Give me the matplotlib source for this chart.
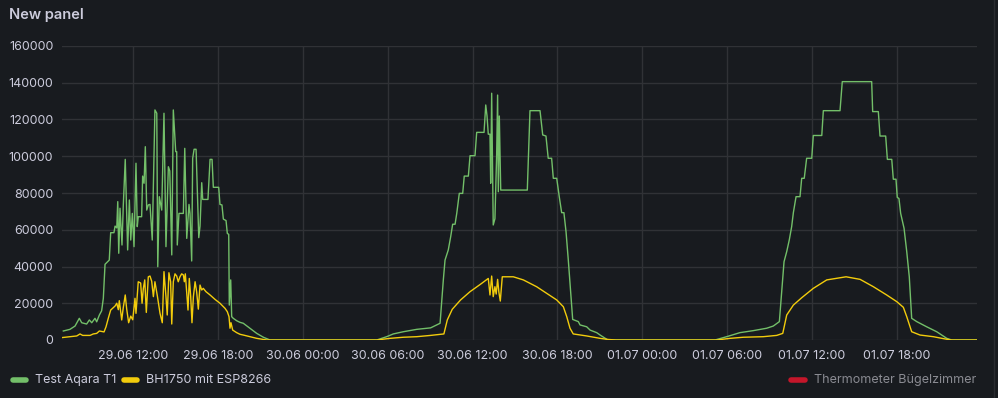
import datetime as dt
import matplotlib
matplotlib.use("Agg")
import matplotlib.pyplot as plt
import matplotlib.dates as mdates
from matplotlib.lines import Line2D
from matplotlib.ticker import MultipleLocator, FuncFormatter

plt.rcParams['font.family'] = ['Inter', 'DejaVu Sans']

# hours since 29.06 00:00 and lux values
aqara_hours = [
    7.05, 7.52, 7.88, 8.18, 8.35, 8.70, 8.89, 9.06, 9.29, 9.41, 9.60, 9.76, 9.88, 10.00,
    10.30, 10.40, 10.63, 10.71, 10.83, 10.90, 10.97, 11.06, 11.20, 11.29, 11.43, 11.60,
    11.72, 11.82, 11.93, 12.05, 12.19, 12.28, 12.35, 12.59, 12.66, 12.76, 12.85, 12.95,
    13.06, 13.18, 13.34, 13.53, 13.66, 13.73, 13.84, 14.01, 14.17, 14.31, 14.48, 14.58,
    14.72, 14.83, 15.00, 15.07, 15.11, 15.23, 15.54, 15.64, 15.78, 15.94, 16.01, 16.13,
    16.20, 16.30, 16.44, 16.53, 16.63, 16.72, 16.84, 16.91, 17.28, 17.43, 17.57, 17.66,
    18.04, 18.13, 18.27, 18.37, 18.56, 18.65, 18.75, 18.79, 18.89, 18.96, 19.07, 19.31,
    19.55, 19.78, 20.25, 20.73, 21.20, 21.67,
    29.22, 29.92, 30.39, 31.10, 32.05, 33.03, 33.46, 33.70, 33.93, 34.05, 34.28, 34.45,
    34.59, 34.76, 34.88, 35.06, 35.30, 35.41, 35.70, 35.82, 36.17, 36.29, 36.81, 36.93,
    37.02, 37.11, 37.23, 37.28, 37.35, 37.46, 37.58, 37.70, 37.77, 37.82, 37.89, 37.99,
    39.87, 40.06, 40.77, 40.96, 41.19, 41.35, 41.59, 41.71, 41.95, 42.13, 42.30, 42.46,
    42.61, 42.77, 42.94, 43.08, 43.48, 43.60, 44.07, 44.31, 44.78, 45.02, 45.57,
    53.15, 53.97, 54.91, 55.86, 56.80, 57.27, 57.70, 57.87, 58.03, 58.22, 58.40, 58.57,
    58.69, 58.88, 59.16, 59.28, 59.46, 59.63, 59.99, 60.10, 60.70, 60.81, 61.99, 62.15,
    64.23, 64.30, 64.70, 64.82, 65.22, 65.34, 65.65, 65.76, 65.95, 66.04, 66.16, 66.28,
    66.52, 66.71, 66.89, 67.06, 67.42, 68.12, 68.83, 69.54, 69.89, 71.68,
]
aqara_lux = [
    4900, 5800, 7600, 11800, 9400, 8700, 10900, 9400, 11800, 9900, 13600, 15900, 22700, 41200,
    43500, 58400, 58400, 62000, 61000, 75300, 47200, 71700, 51700, 72900, 98300, 49000,
    76200, 54400, 68900, 50800, 96200, 61700, 67100, 67100, 89200, 85300, 105200, 70700,
    73500, 73800, 54400, 125200, 123400, 39900, 78000, 70700, 123400, 50800, 94300, 92000,
    46300, 125200, 102500, 102500, 51700, 68900, 68900, 104300, 55300, 73800, 68900, 43000,
    98900, 103800, 103800, 81600, 55700, 62000, 85600, 76500, 76500, 98300, 98300, 83100,
    83100, 73800, 73500, 65800, 65000, 58000, 57500, 19000, 32700, 12700, 11800, 10500,
    9600, 9100, 6400, 3600, 1500, 0,
    0, 1800, 3300, 4500, 5800, 6600, 8200, 9100, 32700, 43500, 49000, 56200,
    63000, 63000, 68900, 79800, 79800, 89200, 89200, 100300, 100300, 113000, 113000, 127900,
    122000, 112000, 112000, 85300, 134300, 62600, 66000, 100000, 133300, 80700, 121900, 81600,
    81600, 124800, 124800, 111600, 111000, 98900, 98900, 88000, 88000, 78000, 69300, 69300,
    58900, 43500, 25400, 11200, 10000, 8200, 7200, 5400, 4000, 2700, 0,
    0, 1800, 4000, 5100, 6400, 7600, 10000, 27200, 42600, 48100, 54400, 61700,
    69300, 78000, 78000, 88000, 88000, 98900, 98900, 111300, 111300, 124800, 124800, 140600,
    140600, 124300, 124300, 111000, 111000, 98300, 98300, 87500, 87500, 77600, 77000, 68900,
    60800, 48100, 34400, 11800, 10000, 7200, 4500, 900, 0, 0,
]

bh1750_hours = [
    6.94, 7.52, 8.00, 8.23, 8.42, 8.94, 9.17, 9.41, 9.60, 9.93, 10.07, 10.23, 10.40, 10.71,
    10.83, 10.94, 11.01, 11.18, 11.29, 11.43, 11.53, 11.67, 11.82, 11.96, 12.12, 12.19,
    12.35, 12.52, 12.62, 12.71, 12.81, 12.92, 13.06, 13.18, 13.30, 13.42, 13.53, 13.70,
    13.89, 14.05, 14.17, 14.31, 14.40, 14.52, 14.64, 14.72, 14.83, 14.95, 15.07, 15.18,
    15.30, 15.42, 15.54, 15.61, 15.68, 15.78, 15.87, 15.96, 16.06, 16.15, 16.25, 16.37,
    16.48, 16.60, 16.72, 16.84, 16.95, 17.14, 17.43, 17.78, 18.13, 18.49, 18.65, 18.77,
    18.84, 18.91, 19.03, 19.31, 19.55, 19.78, 20.73, 21.44,
    29.22, 30.16, 31.10, 32.05, 33.03, 33.97, 34.21, 34.56, 35.15, 35.82, 36.55, 37.11,
    37.23, 37.35, 37.46, 37.58, 37.67, 37.77, 37.86, 37.96, 38.10, 38.88, 39.59, 40.53,
    41.24, 41.95, 42.42, 42.66, 42.89, 43.12, 44.07, 45.02, 45.57, 46.15,
    53.27, 54.21, 55.15, 56.56, 57.51, 57.94, 58.22, 58.69, 59.28, 60.10, 61.05, 62.42,
    63.41, 64.35, 65.29, 66.00, 66.47, 66.71, 67.06, 67.65, 68.59, 69.54, 69.89, 71.68,
]
bh1750_lux = [
    1300, 1800, 2200, 3300, 2500, 2500, 3300, 3600, 4900, 4400, 7200, 11800, 16300, 18500,
    20000, 16500, 21400, 10900, 17600, 24500, 17000, 9400, 13000, 11000, 22700, 14500,
    31700, 31000, 20000, 28100, 32700, 15000, 34400, 34800, 32000, 23600, 31700, 24000,
    14500, 9400, 37200, 23600, 13600, 36600, 31700, 8700, 31700, 36000, 34800, 31700,
    34400, 36000, 35400, 31700, 36000, 25400, 16300, 33500, 23600, 9400, 23600, 31700,
    26300, 16800, 29900, 27200, 28100, 26300, 24500, 22100, 20000, 17200, 15400, 12700,
    6400, 9400, 5400, 4000, 3100, 2700, 900, 0,
    0, 900, 1500, 1800, 2500, 3300, 10900, 16700, 21800, 26300, 30300, 33500,
    24500, 34800, 23600, 29000, 25000, 33000, 26000, 21200, 34400, 34400, 32700, 29000,
    25400, 21800, 18100, 12700, 6400, 3300, 2200, 900, 300, 0,
    0, 900, 1500, 1800, 2500, 3600, 13600, 19000, 23000, 28100, 32700, 34400,
    33000, 29000, 24500, 20900, 17800, 12700, 4500, 2700, 1800, 400, 0, 0,
]

series_names = ['Test Aqara T1', 'BH1750 mit ESP8266', 'Thermometer Bügelzimmer']
series_colors = ['#73BF69', '#F2CC0C', '#C4162A']

start = dt.datetime(2023, 6, 29)
view_hours = (6.935, 71.68)

bg = '#181b1f'
text_col = '#ccccdc'
grid_col = '#303236'


def to_time(hours):
    return [start + dt.timedelta(hours=h) for h in hours]


fig = plt.figure(figsize=(9.98, 3.98), dpi=100, facecolor=bg)
ax = fig.add_axes([61.7 / 998, 58 / 398, (977 - 61.7) / 998, 294 / 398])
ax.set_facecolor(bg)

ax.plot(to_time(aqara_hours), aqara_lux, color=series_colors[0], lw=1.0)
ax.plot(to_time(bh1750_hours), bh1750_lux, color=series_colors[1], lw=1.0)

ax.set_xlim(to_time(view_hours))
ax.set_ylim(0, 160000)
ax.yaxis.set_major_locator(MultipleLocator(20000))
ax.yaxis.set_major_formatter(FuncFormatter(lambda v, p: f'{int(v)}'))
ax.xaxis.set_major_locator(mdates.HourLocator(byhour=[0, 6, 12, 18]))
ax.xaxis.set_major_formatter(mdates.DateFormatter('%d.%m %H:%M'))

for s in ax.spines.values():
    s.set_visible(False)
ax.grid(True, color=grid_col, lw=1.0)
ax.set_axisbelow(True)
ax.tick_params(length=0, colors=text_col, labelsize=9)
ax.tick_params(axis='y', pad=6)
ax.tick_params(axis='x', pad=7)

fig.text(9 / 998, 1 - 15 / 398, 'New panel', color=text_col, fontsize=10.5,
         fontweight='semibold', va='center', ha='left')

# legend row at the bottom
legend_y = 1 - 380 / 398
swatches = [(13, 26, 35), (124, 137, 146), (791, 805, 814)]
for i, (x0, x1, tx) in enumerate(swatches):
    fig.add_artist(Line2D([x0 / 998, x1 / 998], [legend_y, legend_y], lw=4,
                          color=series_colors[i], solid_capstyle='round'))
    fig.text(tx / 998, legend_y, series_names[i], fontsize=9, va='center', ha='left',
             color=text_col if i < 2 else '#8a8b92')

fig.add_artist(Line2D([993.5 / 998, 993.5 / 998], [0, 1], lw=1, color='#2a2c30'))

fig.savefig('out.png', dpi=100, facecolor=bg)
